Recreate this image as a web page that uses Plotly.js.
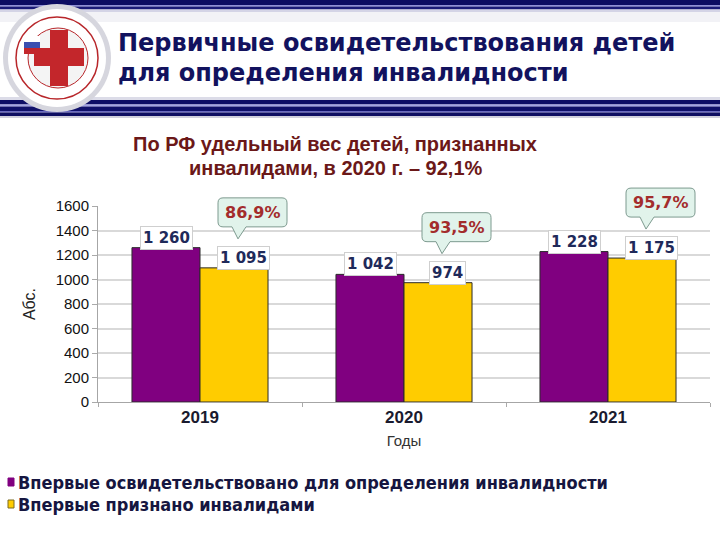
<!DOCTYPE html>
<html>
<head>
<meta charset="utf-8">
<script src="https://cdn.plot.ly/plotly-3.0.1.min.js"></script>
<style>
html,body{margin:0;padding:0;background:#fff;}
#chart{width:720px;height:540px;}
</style>
</head>
<body>
<div id="chart"></div>
<script>
// ---- data ----
const years = ['2019', '2020', '2021'];
const examined = [1260, 1042, 1228];
const recognized = [1095, 974, 1175];
const shareLabels = ['86,9%', '93,5%', '95,7%'];
const seriesNames = [
  'Впервые освидетельствовано для определения инвалидности',
  'Впервые признано инвалидами'
];
const headerTitle = ['Первичные освидетельствования детей', 'для определения инвалидности'];
const subTitle = ['По РФ удельный вес детей, признанных', 'инвалидами, в 2020 г. – 92,1%'];
const xTitle = 'Годы';
const yTitle = 'Абс.';
const yMax = 1600;

// ---- style ----
const PURPLE = '#800080';
const YELLOW = '#FFCC00';
const NAVY = '#12125e';
const W = 720, H = 540;
const M = {l: 98, r: 10, t: 206, b: 138};
const PW = W - M.l - M.r, PH = H - M.t - M.b;
const px = x => (x - M.l) / PW;
const py = y => (H - M.b - y) / PH;
const fmt = v => String(v).replace(/\B(?=(\d{3})+(?!\d))/g, ' ');
const OFF = 1 / 6;

const traces = [
  {type: 'bar', x: years, y: examined, name: seriesNames[0], marker: {color: PURPLE, line: {color: '#2b2b2b', width: 1}}, showlegend: false, hoverinfo: 'skip'},
  {type: 'bar', x: years, y: recognized, name: seriesNames[1], marker: {color: YELLOW, line: {color: '#2b2b2b', width: 1}}, showlegend: false, hoverinfo: 'skip'}
];

const shapes = [];
const annotations = [];
function rectP(x0, y0, x1, y1, color) {
  shapes.push({type: 'rect', xref: 'paper', yref: 'paper', x0: px(x0), x1: px(x1), y0: py(y0), y1: py(y1), fillcolor: color, line: {width: 0}, layer: 'below'});
}
function circP(cx, cy, r, fill, line, lw) {
  shapes.push({type: 'circle', xref: 'paper', yref: 'paper', x0: px(cx - r), x1: px(cx + r), y0: py(cy + r), y1: py(cy - r), fillcolor: fill, line: {color: line || fill, width: lw || 0}, layer: 'below'});
}

// header background & stripes
rectP(0, 12, 720, 22, '#f2f2f6');
rectP(0, 22, 720, 97, '#ffffff');
rectP(0, 0, 720, 5, '#0c0c62');
rectP(0, 5, 720, 6.5, '#8f8fd6');
rectP(0, 6.5, 720, 9.5, '#1a1a78');
rectP(0, 9.5, 720, 12, '#d4d4e6');
rectP(0, 97, 720, 100, '#dcdce8');
rectP(0, 100, 720, 104.5, '#0e0e66');
rectP(0, 104.5, 720, 106.5, '#a4a4e4');
rectP(0, 106.5, 720, 111, '#10106a');
rectP(0, 111, 720, 112.5, '#6a6ac0');
rectP(0, 112.5, 720, 116, '#0e0e62');
rectP(0, 116, 720, 118, '#d0d0dc');

// logo (approximation)
circP(57, 58, 54, '#d6d6de');
circP(57, 58, 49, '#ffffff');
circP(57, 58, 41, '#ffffff', '#b8262a', 1.5);
circP(58, 58, 30, '#f4f4f4', '#b8262a', 1);
rectP(50, 30, 68, 86, '#c3262b');
rectP(34, 48, 84, 66, '#c3262b');
rectP(24, 36, 40, 42, '#ffffff');
rectP(24, 42, 40, 48, '#3b4fb0');
rectP(24, 48, 40, 54, '#c3262b');

// header title
headerTitle.forEach((t, i) => annotations.push({
  xref: 'paper', yref: 'paper', x: px(116), y: py(43 + i * 30), xanchor: 'left', yanchor: 'middle',
  text: t, showarrow: false, font: {family: 'DejaVu Sans', size: 24, color: NAVY, weight: 'bold'}
}));
// subtitle
subTitle.forEach((t, i) => annotations.push({
  xref: 'paper', yref: 'paper', x: px(335), y: py(144 + i * 24), xanchor: 'center', yanchor: 'middle',
  text: '<b>' + t + '</b>', showarrow: false, font: {family: 'Liberation Sans, Arial, sans-serif', size: 20, color: '#6b1818', weight: 'bold'}
}));

// data labels
examined.forEach((v, i) => annotations.push({
  xref: 'x', yref: 'y', x: i - OFF, y: v, yanchor: 'bottom', yshift: -2, text: '<b>' + fmt(v) + '</b>', showarrow: false,
  bgcolor: '#ffffff', bordercolor: '#cfcfcf', borderwidth: 1, borderpad: 2,
  font: {family: 'DejaVu Sans', size: 15, color: '#1f2a5a'}
}));
recognized.forEach((v, i) => annotations.push({
  xref: 'x', yref: 'y', x: i + OFF, y: v, yanchor: 'bottom', yshift: -2, xshift: 9, text: '<b>' + fmt(v) + '</b>', showarrow: false,
  bgcolor: '#ffffff', bordercolor: '#cfcfcf', borderwidth: 1, borderpad: 2,
  font: {family: 'DejaVu Sans', size: 15, color: '#1f2a5a'}
}));

// callouts with percentage share (yref paper so they are not clipped at the plot top)
const tx = 4, ty = 29, bl = -16, br = 53, bb = 41, bt = 70, rr = 5;
const calloutPath = `M${tx},${ty} L${tx - 6},${bb} L${bl + rr},${bb} Q${bl},${bb} ${bl},${bb + rr} L${bl},${bt - rr} Q${bl},${bt} ${bl + rr},${bt} L${br - rr},${bt} Q${br},${bt} ${br},${bt - rr} L${br},${bb + rr} Q${br},${bb} ${br - rr},${bb} L${tx + 8},${bb} Z`;
recognized.forEach((v, i) => {
  shapes.push({type: 'path', xref: 'x', yref: 'paper', xsizemode: 'pixel', ysizemode: 'pixel', xanchor: i + OFF, yanchor: v / yMax,
    path: calloutPath, fillcolor: '#e1f3eb', line: {color: '#7d9a8f', width: 1}, layer: 'above'});
  annotations.push({xref: 'x', yref: 'y', x: i + OFF, y: v, xshift: (bl + br) / 2, yshift: (bb + bt) / 2,
    text: '<b>' + shareLabels[i] + '</b>', showarrow: false, font: {family: 'DejaVu Sans', size: 16, color: '#a32c2c'}});
});

// legend (manual)
const legendColors = [PURPLE, YELLOW];
seriesNames.forEach((n, i) => {
  const yc = 482 + i * 22;
  shapes.push({type: 'rect', xref: 'paper', yref: 'paper', x0: px(8), x1: px(14), y0: py(yc + 4), y1: py(yc - 4),
    fillcolor: legendColors[i], line: {color: i ? '#7a6a20' : legendColors[i], width: 1}});
  annotations.push({xref: 'paper', yref: 'paper', x: px(16), y: py(yc), xanchor: 'left', yanchor: 'middle', text: '<b>' + n + '</b>',
    showarrow: false, font: {family: 'Liberation Sans Narrow, DejaVu Sans Condensed, Arial Narrow, sans-serif', size: 18, color: '#161640'}});
});

const layout = {
  width: W, height: H,
  margin: M,
  paper_bgcolor: '#ffffff', plot_bgcolor: '#ffffff',
  barmode: 'group', bargap: 0.333, bargroupgap: 0,
  font: {family: 'Liberation Sans, Arial, sans-serif', color: '#111'},
  xaxis: {
    type: 'category', tickson: 'boundaries', ticks: 'outside', ticklen: 4, tickcolor: '#aaaaaa',
    showline: true, linecolor: '#a6a6a6', linewidth: 1, showgrid: false,
    tickfont: {family: 'Liberation Sans, Arial, sans-serif', size: 17, color: '#1a1a2e', weight: 'bold'},
    title: {text: xTitle, font: {size: 15, color: '#333'}, standoff: 9},
    fixedrange: true
  },
  yaxis: {
    range: [0, yMax], dtick: 200, ticks: 'outside', ticklen: 5, tickcolor: '#aaaaaa',
    showline: true, linecolor: '#a6a6a6', linewidth: 1,
    showgrid: true, gridcolor: '#d9d9d9', gridwidth: 2, zeroline: false,
    tickfont: {family: 'Liberation Sans, Arial, sans-serif', size: 15, color: '#111'},
    title: {text: yTitle, font: {size: 16, color: '#222'}, standoff: 16},
    fixedrange: true
  },
  shapes: shapes,
  annotations: annotations
};

Plotly.newPlot('chart', traces, layout, {staticPlot: true, displayModeBar: false});
</script>
</body>
</html>
